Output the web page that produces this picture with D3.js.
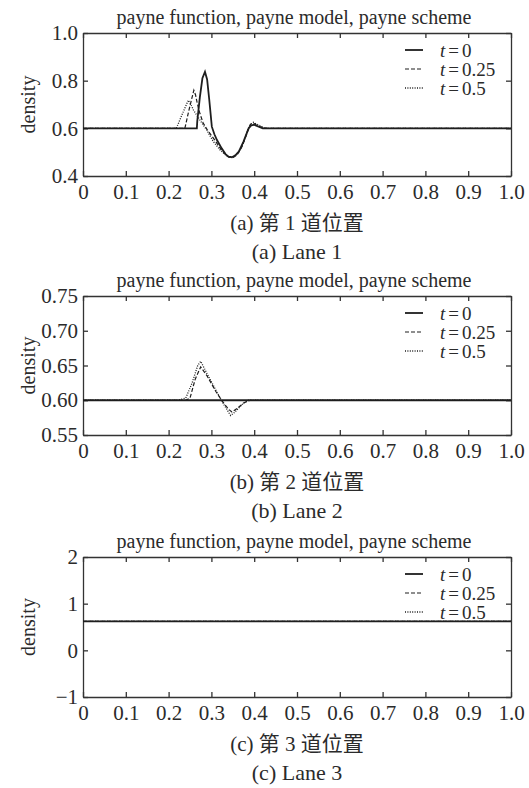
<!DOCTYPE html>
<html>
<head>
<meta charset="utf-8">
<script src="https://cdn.jsdelivr.net/npm/d3@7"></script>
<style>
  body { margin: 0; background: #fff; }
  text { font-family: "Liberation Serif", "Noto Sans CJK SC", serif; fill: #2b2b2b; }
</style>
</head>
<body>
<div id="chart"></div>
<script>
// values (density vs position), three lanes, three times
const title = "payne function, payne model, payne scheme";
const xTicks = [0, 0.1, 0.2, 0.3, 0.4, 0.5, 0.6, 0.7, 0.8, 0.9, 1.0];
const xTickLabels = ["0", "0.1", "0.2", "0.3", "0.4", "0.5", "0.6", "0.7", "0.8", "0.9", "1.0"];
const seriesNames = ["0", "0.25", "0.5"];

// lane 1
const lane1Ticks = [0.4, 0.6, 0.8, 1.0];
const lane1TickLabels = ["0.4", "0.6", "0.8", "1.0"];
const lane1T0 = [[0,0.6],[0.266,0.6],[0.267,0.63],[0.273,0.73],[0.279,0.81],[0.285,0.837],[0.29,0.805],
  [0.295,0.72],[0.301,0.607],[0.307,0.575],[0.313,0.551],[0.324,0.516],[0.333,0.492],[0.34,0.481],
  [0.348,0.479],[0.356,0.487],[0.364,0.502],[0.375,0.544],[0.387,0.6],[0.393,0.612],[0.399,0.615],
  [0.409,0.608],[0.42,0.6],[1,0.6]];
const lane1T025 = [[0,0.6],[0.238,0.6],[0.248,0.68],[0.259,0.76],[0.263,0.74],[0.267,0.705],[0.273,0.663],
  [0.281,0.621],[0.29,0.595],[0.3,0.57],[0.31,0.545],[0.325,0.505],[0.34,0.48],[0.35,0.477],[0.36,0.488],
  [0.372,0.525],[0.385,0.59],[0.392,0.618],[0.4,0.62],[0.41,0.608],[0.42,0.604],[0.43,0.6],[1,0.6]];
const lane1T05 = [[0,0.6],[0.218,0.6],[0.232,0.66],[0.246,0.718],[0.252,0.7],[0.258,0.677],[0.273,0.635],
  [0.289,0.593],[0.304,0.546],[0.32,0.51],[0.335,0.485],[0.345,0.476],[0.355,0.482],[0.368,0.512],
  [0.38,0.565],[0.39,0.615],[0.398,0.625],[0.405,0.618],[0.415,0.61],[0.425,0.6],[1,0.6]];

// lane 2
const lane2Ticks = [0.55, 0.60, 0.65, 0.70, 0.75];
const lane2TickLabels = ["0.55", "0.60", "0.65", "0.70", "0.75"];
const lane2T0 = [[0,0.6],[1,0.6]];
const lane2T025 = [[0,0.6],[0.24,0.6],[0.25,0.603],[0.262,0.63],[0.275,0.648],[0.29,0.635],[0.31,0.613],
  [0.325,0.599],[0.34,0.587],[0.348,0.583],[0.36,0.588],[0.375,0.596],[0.39,0.6],[1,0.6]];
const lane2T05 = [[0,0.6],[0.22,0.6],[0.24,0.603],[0.255,0.625],[0.268,0.65],[0.275,0.656],[0.29,0.638],
  [0.31,0.615],[0.325,0.598],[0.335,0.588],[0.345,0.578],[0.355,0.583],[0.37,0.593],[0.385,0.6],[1,0.6]];

// lane 3
const lane3Ticks = [-1, 0, 1, 2];
const lane3TickLabels = ["\u22121", "0", "1", "2"];
const lane3T0 = [[0,0.62],[1,0.62]];
const lane3T025 = [[0,0.62],[1,0.62]];
const lane3T05 = [[0,0.62],[1,0.62]];

const captionsCn = ["(a) 第 1 道位置", "(b) 第 2 道位置", "(c) 第 3 道位置"];
const captionsEn = ["(a) Lane 1", "(b) Lane 2", "(c) Lane 3"];

const width = 529, height = 788;
const left = 83, right = 511;

const panels = [
  {top: 33, bottom: 176, domain: [0.4, 1.0], ticks: lane1Ticks, labels: lane1TickLabels, series: [lane1T0, lane1T025, lane1T05]},
  {top: 296, bottom: 435, domain: [0.55, 0.75], ticks: lane2Ticks, labels: lane2TickLabels, series: [lane2T0, lane2T025, lane2T05]},
  {top: 557, bottom: 697, domain: [-1, 2], ticks: lane3Ticks, labels: lane3TickLabels, series: [lane3T0, lane3T025, lane3T05]}
];

const styles = [
  {dash: null, w: 1.8},
  {dash: "4,2", w: 1.2},
  {dash: "1,1.4", w: 1.3}
];

const svg = d3.select("#chart").append("svg")
  .attr("width", width)
  .attr("height", height);

const x = d3.scaleLinear().domain([0, 1]).range([left, right]);

panels.forEach((p, i) => {
  const y = d3.scaleLinear().domain(p.domain).range([p.bottom, p.top]);
  const g = svg.append("g");

  // title
  g.append("text")
    .attr("x", (left + right) / 2 - 3)
    .attr("y", p.top - 16)
    .attr("dy", "0.35em")
    .attr("text-anchor", "middle")
    .style("font-size", "20px")
    .text(title);

  // frame + inward ticks on all 4 sides
  const lbl = (arr, ticks) => d => arr[ticks.indexOf(d)];
  g.append("g").attr("transform", `translate(0,${p.bottom})`)
    .call(d3.axisBottom(x).tickValues(xTicks).tickFormat(lbl(xTickLabels, xTicks)).tickSize(-5).tickSizeOuter(0).tickPadding(8));
  g.append("g").attr("transform", `translate(0,${p.top})`)
    .call(d3.axisTop(x).tickValues(xTicks).tickFormat("").tickSize(-5).tickSizeOuter(0));
  g.append("g").attr("transform", `translate(${left},0)`)
    .call(d3.axisLeft(y).tickValues(p.ticks).tickFormat(lbl(p.labels, p.ticks)).tickSize(-5).tickSizeOuter(0).tickPadding(5));
  g.append("g").attr("transform", `translate(${right},0)`)
    .call(d3.axisRight(y).tickValues(p.ticks).tickFormat("").tickSize(-5).tickSizeOuter(0));

  g.selectAll(".domain, .tick line").attr("stroke", "#333").attr("stroke-width", 1.3);
  g.selectAll(".tick text").style("font-size", "21px").attr("fill", "#2b2b2b").style("font-family", "Liberation Serif");

  // y label
  g.append("text")
    .attr("transform", `translate(28,${(p.top + p.bottom) / 2}) rotate(-90)`)
    .attr("dy", "0.35em")
    .attr("text-anchor", "middle")
    .style("font-size", "20px")
    .text("density");

  // curves
  const line = d3.line().x(d => x(d[0])).y(d => y(d[1]));
  g.append("g").selectAll("path")
    .data(p.series)
    .join("path")
      .attr("d", line)
      .attr("fill", "none")
      .attr("stroke", "#1e1e1e")
      .attr("stroke-width", (d, k) => styles[k].w)
      .attr("stroke-dasharray", (d, k) => styles[k].dash);

  // legend (no box)
  const leg = g.append("g").selectAll("g")
    .data(seriesNames)
    .join("g")
      .attr("transform", (d, k) => `translate(0,${p.top + 17 + k * 19})`);
  leg.append("line")
    .attr("x1", 405).attr("x2", 423)
    .attr("stroke", "#1e1e1e")
    .attr("stroke-width", (d, k) => styles[k].w)
    .attr("stroke-dasharray", (d, k) => styles[k].dash);
  const lt = leg.append("text")
    .attr("x", 440)
    .attr("dy", "0.35em")
    .style("font-size", "19px");
  lt.append("tspan").style("font-style", "italic").text("t");
  lt.append("tspan").attr("dx", 3).text("=");
  lt.append("tspan").attr("dx", 3).text(d => d);

  // captions
  g.append("text")
    .attr("x", (left + right) / 2)
    .attr("y", p.bottom + 47)
    .attr("dy", "0.35em")
    .attr("text-anchor", "middle")
    .style("font-size", "21px")
    .text(captionsCn[i]);
  g.append("text")
    .attr("x", (left + right) / 2)
    .attr("y", p.bottom + 75)
    .attr("dy", "0.35em")
    .attr("text-anchor", "middle")
    .style("font-size", "22px")
    .text(captionsEn[i]);
});
</script>
</body>
</html>
